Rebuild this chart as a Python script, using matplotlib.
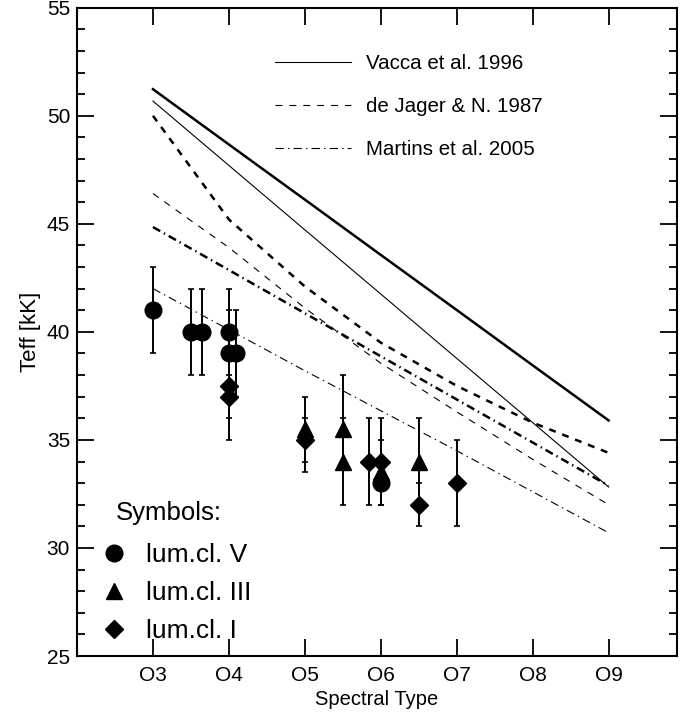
import matplotlib
matplotlib.use("Agg")
import matplotlib.pyplot as plt
from matplotlib.lines import Line2D

plt.rcParams["font.family"] = ["Liberation Sans", "DejaVu Sans"]
plt.rcParams["lines.scale_dashes"] = False

# spectral subtypes O3..O9 used by the calibrations
subtypes = [3, 4, 5, 6, 7, 8, 9]
tick_labels = ["O3", "O4", "O5", "O6", "O7", "O8", "O9"]

# Teff calibrations [kK]
vacca_V = [51.23, 48.67, 46.12, 43.56, 41.01, 38.45, 35.90]
vacca_I = [50.68, 47.70, 44.72, 41.75, 38.77, 35.80, 32.82]
dejager_V = [50.0, 45.2, 42.1, 39.5, 37.5, 35.8, 34.4]
dejager_I = [46.4, 43.9, 41.1, 38.55, 36.3, 34.1, 32.0]
martins_V = [44.85, 42.86, 40.86, 38.87, 36.87, 34.88, 32.88]
martins_I = [42.0, 40.1, 38.2, 36.35, 34.5, 32.6, 30.7]

# observed stars, lum. class V
v_sp = [3.0, 3.5, 3.65, 4.0, 4.0, 4.1, 6.0]
v_teff = [41, 40, 40, 40, 39, 39, 33]
v_err = [2, 2, 2, 2, 2, 2, 1]

# lum. class III
iii_sp = [5.0, 5.5, 5.5, 6.0, 6.5]
iii_teff = [35.5, 35.5, 34, 33.5, 34]
iii_err_lo = [2, 1.5, 2, 1.5, 2]
iii_err_hi = [1.5, 2.5, 2, 1.5, 2]

# lum. class I
i_sp = [4.0, 4.0, 5.0, 5.85, 6.0, 6.5, 7.0]
i_teff = [37.5, 37, 35, 34, 34, 32, 33]
i_err = [1.5, 2, 1, 2, 2, 1, 2]

dash = (0, (5, 5))
dashdot = (0, (6, 3, 1, 3))

fig = plt.figure(figsize=(6.82, 7.18), dpi=100)
ax = fig.add_axes([77 / 682, 1 - 656 / 718, 600 / 682, 648.3 / 718])

ax.plot(subtypes, vacca_V, color="black", lw=1.8, ls="-")
ax.plot(subtypes, vacca_I, color="black", lw=0.8, ls="-")
ax.plot(subtypes, dejager_V, color="black", lw=1.8, ls=dash)
ax.plot(subtypes, dejager_I, color="black", lw=0.8, ls=dash)
ax.plot(subtypes, martins_V, color="black", lw=1.8, ls=dashdot)
ax.plot(subtypes, martins_I, color="black", lw=0.8, ls=dashdot)

eb = dict(color="black", ecolor="black", elinewidth=1.4, capsize=2.5, capthick=1.2,
          ls="none", zorder=3)
ax.errorbar(v_sp, v_teff, yerr=v_err, marker="o", ms=12, **eb)
ax.errorbar(iii_sp, iii_teff, yerr=[iii_err_lo, iii_err_hi], marker="^", ms=12, **eb)
ax.errorbar(i_sp, i_teff, yerr=i_err, marker="D", ms=9.5, **eb)

ax.set_xlim(2, 9.9)
ax.set_ylim(25, 55)
ax.set_xticks(subtypes)
ax.set_xticklabels(tick_labels)
ax.set_yticks(range(25, 56, 5))
ax.set_yticks(range(25, 56), minor=True)
ax.tick_params(which="both", direction="in", top=True, right=True, width=1.3)
ax.tick_params(which="major", length=12, labelsize=15)
ax.tick_params(which="minor", length=6)
ax.tick_params(axis="x", pad=7)
ax.tick_params(axis="y", pad=5)
for sp in ax.spines.values():
    sp.set_linewidth(1.5)

ax.set_xlabel("Spectral Type", fontsize=14.5, labelpad=4)
ax.set_ylabel("Teff [kK]", fontsize=16, labelpad=4)

# calibration legend
line_handles = [
    Line2D([], [], color="black", lw=0.8, ls="-"),
    Line2D([], [], color="black", lw=0.8, ls=dash),
    Line2D([], [], color="black", lw=0.8, ls=dashdot),
]
leg1 = ax.legend(line_handles, ["Vacca et al. 1996", "de Jager & N. 1987", "Martins et al. 2005"],
                 loc="upper left", bbox_to_anchor=(0.33, 0.929), frameon=False,
                 fontsize=14.8, handlelength=3.7, handletextpad=0.75, labelspacing=1.18,
                 borderpad=0, borderaxespad=0)
ax.add_artist(leg1)

# symbols legend
ax.text(0.065, 0.2206, "Symbols:", fontsize=18.5, va="center", ha="left",
        transform=ax.transAxes)
sym_handles = [
    Line2D([], [], color="black", marker="o", ls="none", ms=12),
    Line2D([], [], color="black", marker="^", ms=12, ls="none"),
    Line2D([], [], color="black", marker="D", ms=9.5, ls="none"),
]
ax.legend(sym_handles, ["lum.cl. V", "lum.cl. III", "lum.cl. I"],
          loc="upper left", bbox_to_anchor=(0.04, 0.1745), frameon=False,
          fontsize=19, handlelength=1.0, handletextpad=0.7, labelspacing=0.53,
          borderpad=0, borderaxespad=0)

fig.savefig("out.png", dpi=100)
